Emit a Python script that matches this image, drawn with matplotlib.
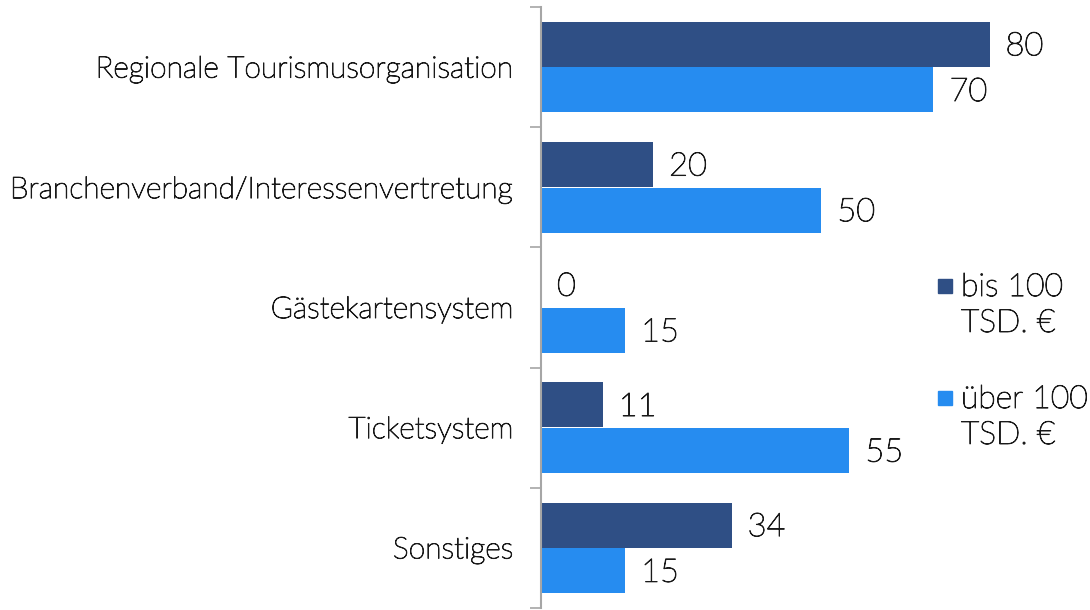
import numpy as np
import matplotlib.pyplot as plt
import matplotlib.patheffects as pe
from matplotlib.patches import Rectangle

plt.rcParams['font.family'] = ['Lato', 'DejaVu Sans']
plt.rcParams['font.weight'] = 'light'

categories = ['Regionale Tourismusorganisation',
              'Branchenverband/Interessenvertretung',
              'Gästekartensystem',
              'Ticketsystem',
              'Sonstiges']
bis_100 = [80, 20, 0, 11, 34]
ueber_100 = [70, 50, 15, 55, 15]
series_labels = ['bis 100\nTSD. €', 'über 100\nTSD. €']

dark = '#2F4F85'
light = '#268CF0'
txt = '#1a1a1a'
# thicken the thin face a little
thick = [pe.withStroke(linewidth=0.7, foreground=txt)]

fig = plt.figure(figsize=(10.9, 6.1), dpi=100)
ax = fig.add_axes([541 / 1090, 2 / 610, 471 / 1090, 601 / 610])

y = np.arange(len(categories))
h = 0.375
off = 0.19
b1 = ax.barh(y - off, bis_100, height=h, color=dark)
b2 = ax.barh(y + off, ueber_100, height=h, color=light)

for bars, vals in ((b1, bis_100), (b2, ueber_100)):
    for rect, v in zip(bars, vals):
        ax.annotate(str(v), (rect.get_width(), rect.get_y() + rect.get_height() / 2),
                    xytext=(11.5, -1.5), textcoords='offset points',
                    ha='left', va='center', fontsize=23.5, color=txt,
                    path_effects=thick)

ax.set_xlim(0, 84)
ax.set_ylim(len(categories) - 0.5, -0.5)

ax.set_yticks(y)
ax.set_yticklabels(categories, fontsize=21.6, color=txt)
for lbl in ax.get_yticklabels():
    lbl.set_path_effects(thick)
ax.tick_params(axis='y', which='major', length=0, pad=20)
ax.set_yticks(np.arange(len(categories) + 1) - 0.5, minor=True)
ax.tick_params(axis='y', which='minor', length=8, width=1.2, color='#A6A6A6')
ax.set_xticks([])

for s in ('top', 'right', 'bottom'):
    ax.spines[s].set_visible(False)
ax.spines['left'].set_color('#A6A6A6')
ax.spines['left'].set_linewidth(1.5)

# legend: square beside the first line of each two-line label
for i, (lab, col) in enumerate(zip(series_labels, (dark, light))):
    top = 1 - (273 + i * 112) / 610
    fig.patches.append(Rectangle((938 / 1090, top - 20 / 610), 14 / 1090, 14 / 610,
                                 transform=fig.transFigure, color=col))
    fig.text(961 / 1090, top, lab, ha='left', va='top', fontsize=23,
             color=txt, linespacing=1.3, path_effects=thick)

fig.savefig('out.png', dpi=100)
